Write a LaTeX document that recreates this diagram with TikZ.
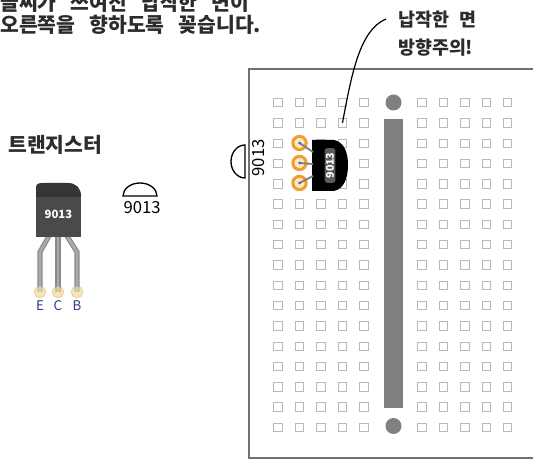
\documentclass[tikz,border=0pt]{standalone}
\usepackage{fontspec}
\usetikzlibrary{calc}
\setmainfont{Noto Sans CJK KR}
\newcommand{\wgap}{\hspace{10.7pt}}
\definecolor{holegray}{HTML}{B8B8B8}
\definecolor{railgray}{HTML}{808080}
\definecolor{framegray}{HTML}{707070}
\definecolor{pinorange}{HTML}{EFA032}
\definecolor{pinfill}{HTML}{FBE8C4}
\definecolor{legdark}{HTML}{8A8A8A}
\definecolor{leglight}{HTML}{ABABAB}
\definecolor{bodygray}{HTML}{4A4A4A}
\definecolor{capgray}{HTML}{353535}
\definecolor{padfill}{HTML}{F4E6B8}
\definecolor{padring}{HTML}{E9CF8E}
\definecolor{pinlabel}{HTML}{2E3C8C}
\definecolor{taggray}{HTML}{5A5A5A}
\definecolor{inkgray}{HTML}{2C2C2C}
\begin{document}
\begin{tikzpicture}[x=0.75pt,y=-0.75pt,
  hole/.style={draw=holegray,line width=0.55pt,fill=white,inner sep=0pt,minimum size=6.3pt},
  bodytext/.style={text=inkgray,font=\bfseries\fontsize{15.3}{17}\selectfont,inner sep=0pt},
  pinpad/.style={circle,draw=padring,fill=padfill,line width=0.8pt,inner sep=0pt,minimum size=8.5pt},
  pinring/.style={circle,draw=pinorange,fill=pinfill,line width=2.3pt,inner sep=0pt,minimum size=10pt},
  leg/.style={line width=3.8pt,draw=legdark},
  leginner/.style={line width=2pt,draw=leglight},
  ecb/.style={text=pinlabel,font=\fontsize{10}{12}\selectfont,inner sep=0pt},
  partno/.style={font=\fontsize{12.5}{14}\selectfont,inner sep=0pt}]
\useasboundingbox (0,0) rectangle (533,459);
\clip (0,0) rectangle (533,459);

% instruction text at the top
\node[bodytext,anchor=base west] (line1) at (0,11) {글씨가\wgap 쓰여진\wgap 납작한\wgap 면이};
\node[bodytext,anchor=base west] (line2) at (0,32.5) {오른쪽을\wgap 향하도록\wgap 꽂습니다.};

% callout
\node[bodytext,font=\bfseries\fontsize{13.8}{16}\selectfont,anchor=base west] (note1) at (398,26.5) {납작한\hspace{5pt} 면};
\node[bodytext,font=\bfseries\fontsize{13.8}{16}\selectfont,anchor=base west] (note2) at (398,55) {방향주의!};

% breadboard frame
\draw[framegray,line width=1.5pt] (545,69) -- (249,69) -- (249,458) -- (545,458);

% holes
\foreach \c [count=\i] in {278,299.5,321,342.5,364,422,443.5,465,486.5,507.5}
  \foreach \r in {0,...,16}
    \node[hole] (h-\i-\r) at (\c,{102.5+20.3*\r}) {};

% power rail
\fill[railgray] (384,119) rectangle (403,408);
\fill[railgray] (393.5,102.5) circle[radius=8];
\fill[railgray] (393.5,426) circle[radius=8];

% leader line
\coordinate (lead) at (386,19);
\draw[line width=0.9pt] (h-4-1.center) .. controls (352,72) and (360,30) .. (lead);

% transistor placed on the board
\fill[black] (312,140) -- (334,140) .. controls (344,142) and (348,152) .. (348,165)
  .. controls (348,178) and (344,189) .. (334,191) -- (312,191) -- cycle;
\node[fill=taggray,rounded corners=2pt,rotate=90,text=white,font=\bfseries\fontsize{8}{9}\selectfont,
  inner xsep=2pt,inner ysep=1pt,minimum width=26pt] (tag) at (330,165.5) {9013};
\coordinate (bE) at (313,152);
\coordinate (bC) at (313,164);
\coordinate (bB) at (313,176);
\node[pinring] (r1) at (299.5,143) {};
\node[pinring] (r2) at (299.5,163) {};
\node[pinring] (r3) at (299.5,183) {};
\foreach \r/\b in {r1/bE,r2/bC,r3/bB}{
  \draw[line width=1.4pt,draw=gray] (\r.center) -- (\b);
  \fill[gray!70!blue] (\r.center) circle[radius=1.4];
}

% flat-side symbol beside the board
\draw[line width=1pt] (245,145) arc[start angle=270,end angle=90,x radius=14,y radius=16.5] -- cycle;
\node[partno,rotate=90] (sym2) at (259,158) {9013};

% transistor legend on the left
\node[bodytext,anchor=base west] (ttitle) at (8,152.5) {트랜지스터};

\node[pinpad] (pE) at (40,292) {};
\node[pinpad] (pC) at (58,292) {};
\node[pinpad] (pB) at (77,292) {};
\coordinate (lE) at (49,236);
\coordinate (lC) at (58,236);
\coordinate (lB) at (67,236);
\foreach \a/\b in {lE/pE,lB/pB}{
  \draw[leg] (\a) -- ($(\b)+(0,-40)$) -- (\b.center);
  \draw[leginner] (\a) -- ($(\b)+(0,-40)$) -- (\b.center);
}
\draw[leg] (lC) -- (pC.center);
\draw[leginner] (lC) -- (pC.center);
\node[pinpad,draw=none,fill=padfill,opacity=0.6] at (pE) {};
\node[pinpad,draw=none,fill=padfill,opacity=0.6] at (pC) {};
\node[pinpad,draw=none,fill=padfill,opacity=0.6] at (pB) {};

\fill[bodygray] (36,196) rectangle (81,237);
\fill[capgray] (36,197) -- (36,188) .. controls (36,184) and (38,183) .. (43,183)
  -- (68,183) .. controls (76,183) and (81,188) .. (81,196) -- (81,197) -- cycle;
\node[text=white,font=\bfseries\fontsize{8.5}{10}\selectfont,inner sep=0pt] (lbody) at (58.5,214) {9013};

\node[ecb] (tE) at (40,306) {E};
\node[ecb] (tC) at (58,306) {C};
\node[ecb] (tB) at (77,306) {B};

% flat-side symbol
\draw[line width=1pt] (123,196) arc[start angle=180,end angle=360,x radius=17,y radius=13] -- cycle;
\node[partno] (sym1) at (142,208) {9013};
\end{tikzpicture}
\end{document}
